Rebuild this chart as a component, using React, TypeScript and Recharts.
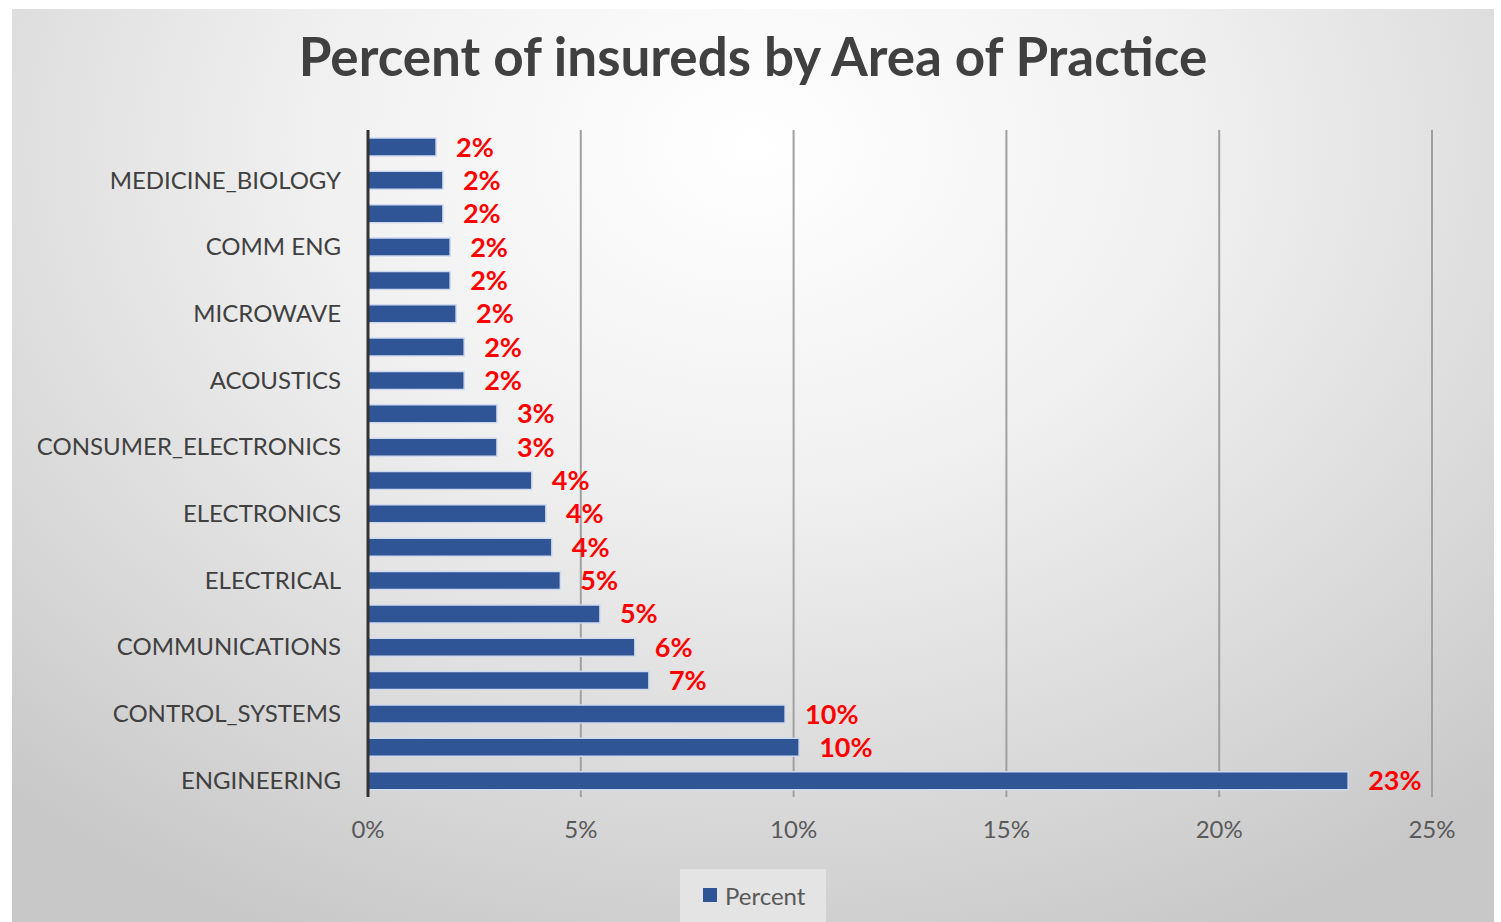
import { BarChart, Bar, XAxis, YAxis, CartesianGrid, Legend, LabelList } from "recharts";

// rows listed bottom to top; every other row has no visible label in the source
const categories = [
  "ENGINEERING", "", "CONTROL_SYSTEMS", "", "COMMUNICATIONS", "",
  "ELECTRICAL", "", "ELECTRONICS", "", "CONSUMER_ELECTRONICS", "",
  "ACOUSTICS", "", "MICROWAVE", "", "COMM ENG", "", "MEDICINE_BIOLOGY", "",
];
const percents = [
  23.03, 10.13, 9.8, 6.6, 6.27, 5.45, 4.52, 4.32, 4.18, 3.85,
  3.03, 3.03, 2.26, 2.26, 2.07, 1.93, 1.93, 1.76, 1.76, 1.6,
];
const xTicks = [0, 5, 10, 15, 20, 25];

const data = categories.map((name, i) => ({ name, Percent: percents[i] }));

const FONT = "Lato, 'Open Sans', sans-serif";

const renderLegend = () => (
  <div
    style={{
      display: "flex",
      alignItems: "center",
      background: "#e4e4e4",
      width: 146,
      height: 60,
      boxSizing: "border-box",
      paddingLeft: 23,
      paddingBottom: 8,
      fontFamily: FONT,
      fontSize: 24,
      color: "#595959",
    }}
  >
    <span style={{ width: 14, height: 14, background: "#2F5597", marginRight: 8, display: "inline-block" }} />
    Percent
  </div>
);

export default function App() {
  return (
    <div style={{ position: "fixed", left: 0, top: 0, width: 1501, height: 922, overflow: "hidden", background: "#fff" }}>
      <div
        style={{
          position: "absolute",
          left: 12,
          top: 9,
          width: 1482,
          height: 913,
          overflow: "hidden",
          background:
            "radial-gradient(ellipse 75% 95% at 50% 15%, #ffffff 0%, #f0f0f0 40%, #d6d6d6 80%, #c8c8c8 100%)",
        }}
      >
        <div
          style={{
            position: "absolute",
            top: 15,
            width: "100%",
            textAlign: "center",
            fontFamily: FONT,
            fontWeight: 700,
            fontSize: 53,
            color: "#404040",
          }}
        >
          Percent of insureds by Area of Practice
        </div>
        <BarChart
          width={1482}
          height={913}
          data={data}
          layout="vertical"
          margin={{ top: 121, right: 62, bottom: 85, left: 0 }}
          barCategoryGap={0}
        >
          <CartesianGrid horizontal={false} stroke="#a0a0a0" strokeWidth={2} />
          <XAxis
            type="number"
            domain={[0, 25]}
            ticks={xTicks}
            tickFormatter={(v: number) => `${v}%`}
            axisLine={false}
            tickLine={false}
            tickSize={0}
            tickMargin={24}
            height={40}
            tick={{ fill: "#595959", fontSize: 24, fontFamily: FONT }}
          />
          <YAxis
            type="category"
            dataKey="name"
            reversed
            interval={1}
            width={356}
            axisLine={{ stroke: "#333333", strokeWidth: 3 }}
            tickLine={false}
            tickSize={0}
            tickMargin={27}
            tick={{ fill: "#404040", fontSize: 24, fontFamily: FONT }}
          />
          <Legend
            verticalAlign="middle"
            align="center"
            content={renderLegend}
            wrapperStyle={{ top: 860, left: 668, width: 146 }}
          />
          <Bar
            dataKey="Percent"
            fill="#2F5597"
            stroke="#cfdaee"
            strokeWidth={1.5}
            barSize={18}
            isAnimationActive={false}
          >
            <LabelList
              dataKey="Percent"
              position="right"
              offset={20}
              formatter={(v: number) => `${Math.round(v)}%`}
              style={{ fill: "#ff0000", fontSize: 27, fontWeight: 700, fontFamily: FONT }}
            />
          </Bar>
        </BarChart>
      </div>
    </div>
  );
}
